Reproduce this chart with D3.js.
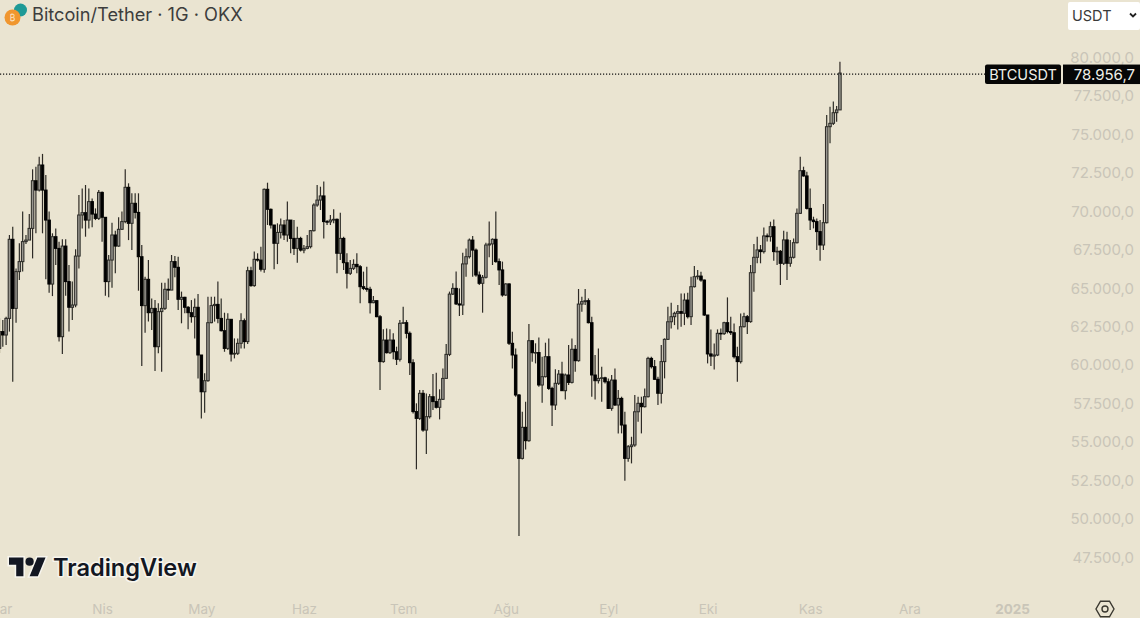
<!DOCTYPE html>
<html><head><meta charset="utf-8">
<script src="https://cdn.jsdelivr.net/npm/d3@7/dist/d3.min.js"></script>
<style>html,body{margin:0;padding:0;background:#eae4d1;overflow:hidden}svg{display:block}</style>
</head><body><svg id="c" width="1140" height="618"></svg>
<script>
const startDate = "2024-03-01";
const closes = [
62150,61930,63010,68150,63660,66050,66700,68000,68100,68860,
71960,71350,72980,71350,69400,65240,68320,67560,61820,67710,
65400,63730,63880,67060,69730,69880,69400,70600,69790,69510,
71200,69580,65400,66800,68430,67710,68800,69300,71530,69190,
70490,69900,67020,63840,65550,63380,63660,61170,63450,63660,
64900,64850,66700,66330,64250,64380,63730,63380,63120,63730,
60630,58240,58960,62730,63840,63920,63010,62210,61060,62950,
60690,60740,61390,62860,61500,66110,65140,66850,66800,66200,
71400,70100,69080,67890,68600,69080,68430,69400,68210,67560,
68210,67450,67560,67670,68710,70380,70700,70970,69300,69280,
69400,69450,67240,68210,66630,65940,66260,66520,66370,65070,
64960,64900,64030,64160,63120,60200,61600,60780,61600,60840,
60350,62690,62730,62040,60130,56950,56510,58140,55750,56620,
57920,57600,57230,57750,59110,60670,64590,64960,63950,63880,
66550,67020,68100,67450,65830,65290,65680,67780,67850,68150,
66700,66160,64530,65250,61390,60630,58030,53910,55930,55060,
61560,60780,60790,58680,59220,60520,58460,57380,58790,59390,
58310,59330,58850,61000,60260,63940,64100,64160,62730,59330,
58960,59110,59150,58890,57160,59000,57380,57810,56080,53910,
54670,54780,56940,57490,57270,57920,60410,59870,59050,58140,
60200,61650,62790,63120,63340,63450,63340,64200,63120,65070,
65720,65760,65500,63230,60700,60560,60630,62040,62020,62730,
62150,62080,60520,60200,62470,63120,62800,65980,66980,67460,
67350,68370,68320,68970,67350,67370,66590,68110,66590,66980,
67930,69840,72610,72270,70160,69400,69300,68650,67780,69230,
75470,75690,76380,76560,78956.7];
const opens = [
61060,62150,61930,63010,68150,63660,66050,66700,68000,68100,
68860,71960,71350,72980,71350,69400,65240,68320,67560,61820,
67710,65400,63730,63880,67060,69730,69880,69400,70600,69790,
69510,71200,69580,65400,66800,68430,67710,68800,69300,71530,
69190,70490,69900,67020,63840,65550,63380,63660,61170,63450,
63660,64900,64850,66700,66330,64250,64380,63730,63380,63120,
63730,60630,58240,58960,62730,63840,63920,63010,62210,61060,
62950,60690,60740,61390,62860,61500,66110,65140,66850,66800,
66200,71400,70100,69080,67890,68600,69080,68430,69400,68210,
67560,68210,67450,67560,67670,68710,70380,70700,70970,69300,
69280,69400,69450,67240,68210,66630,65940,66260,66520,66370,
65070,64960,64900,64030,64160,63120,60200,61600,60780,61600,
60840,60350,62690,62730,62040,60130,56950,56510,58140,55750,
56620,57920,57600,57230,57750,59110,60670,64590,64960,63950,
63880,66550,67020,68100,67450,65830,65290,65680,67780,67850,
68150,66700,66160,64530,65250,61390,60630,58030,53910,55930,
55060,61560,60780,60790,58680,59220,60520,58460,57380,58790,
59390,58310,59330,58850,61000,60260,63940,64100,64160,62730,
59330,58960,59110,59150,58890,57160,59000,57380,57810,56080,
53910,54670,54780,56940,57490,57270,57920,60410,59870,59050,
58140,60200,61650,62790,63120,63340,63450,63340,64200,63120,
65070,65720,65760,65500,63230,60700,60560,60630,62040,62020,
62730,62150,62080,60520,60200,62470,63120,62800,65980,66980,
67460,67350,68370,68320,68970,67350,67370,66590,68110,66590,
66980,67930,69840,72610,72270,70160,69400,69300,68650,67780,
69230,75470,75690,76380,76560];
const highs = [
63010,62900,63120,68430,68970,66260,67890,69950,68430,69790,
72700,72870,73520,73700,72330,69950,68540,68860,67990,68150,
68150,66480,65400,67500,71030,71460,71680,71460,70810,70160,
71350,71250,69580,67130,69230,68710,69580,69950,72700,71790,
71140,71140,71140,67780,65720,66800,64310,64200,63990,65330,
65330,65610,67130,67060,67020,64750,64420,63810,64200,64310,
64590,60630,59440,64420,64420,64420,65400,64310,63380,63340,
62950,61710,61710,63340,63010,66370,66370,67350,67240,67670,
71460,71830,70160,69080,69190,69510,69400,70600,69400,69400,
68970,68320,67780,68430,68750,70490,71680,71570,71900,69400,
69730,70100,69510,69880,68320,67240,66800,66850,67240,66480,
66050,66370,65070,64460,64200,63230,62300,62360,62300,62040,
61170,62900,63770,62900,62150,60350,57490,58350,58350,58135,
58090,59390,59480,58400,59760,61340,64750,65290,66050,64960,
67280,67560,68210,68360,67560,66050,65830,67930,69300,68210,
69950,66910,66700,65290,65290,62140,61060,58090,56940,57590,
62640,61600,61390,61760,60520,61430,61710,58570,59700,59650,
60195,59435,61280,61710,61280,64920,64420,64920,64310,63120,
60630,61060,59870,59220,59110,59325,59760,58350,57920,56940,
54775,55315,58025,57920,57920,58460,60520,60520,60300,59220,
61280,61710,63770,64030,63445,63880,64635,64635,64680,65720,
66415,66150,66045,65545,63230,62295,61385,62295,62360,62795,
64375,63120,62685,61170,63335,63380,63230,66480,67845,68320,
67780,68925,68535,69295,69445,67670,67455,68710,68645,68105,
68210,70160,73520,72870,72545,71460,69620,69510,69400,70445,
76230,76770,77100,76815,79695];
const lows = [
60740,61170,61280,62150,58890,62730,65500,66050,67840,68100,
66910,68540,71250,68540,65550,64680,64460,66480,61500,60690,
64480,62150,62900,63730,66260,68860,68320,68860,68930,69400,
69400,67990,64480,64380,65000,65940,67670,68750,69190,68100,
67450,69510,64810,59910,62080,62800,62250,59590,60740,59540,
63550,64200,64850,65680,63550,62690,63340,62300,62730,61710,
59110,56510,56880,58890,62690,62800,62690,62150,60840,60950,
60200,60410,60630,61060,61060,61340,65070,65070,66700,66050,
65980,69080,68860,66200,66540,68210,68100,67990,67240,67130,
66630,67350,67240,67500,67560,68650,70270,70055,68210,69080,
69080,69190,65940,66800,66155,64960,65830,66155,65940,63990,
64850,64745,63335,63990,63080,58350,60130,60735,60695,60350,
59980,60200,62640,61710,59330,56835,53200,56400,55645,54190,
56510,57055,57160,56445,57700,59110,60560,64530,63880,63165,
63230,65720,66910,65720,65720,65180,63380,65610,66980,66480,
66630,65180,64420,64465,61280,59760,57920,48860,53845,54495,
54995,60195,60085,58570,57530,59175,58350,56010,57055,58680,
58310,57745,58675,58785,59545,60195,63445,63880,62685,57920,
57745,58785,57595,58785,57160,57010,57310,55535,55535,52455,
53690,53585,54670,56295,55535,57225,57875,59760,59000,57375,
57485,59110,61600,62360,62575,62295,62470,62575,63010,62575,
65025,65545,65395,63160,60085,59915,59695,60560,61600,61930,
62035,61930,60410,58895,60085,62425,61990,62730,64745,66590,
66590,67235,68000,68000,66760,66480,65180,66480,65500,66370,
66910,67885,69795,72220,70095,68755,68860,67455,66760,67455,
69185,74390,75580,75795,76555];

const priceTicks = [80000,77500,75000,72500,70000,67500,65000,62500,60000,57500,55000,52500,50000,47500];
const monthLabels = ["Mar","Nis","May","Haz","Tem","Ağu","Eyl","Eki","Kas","Ara","2025"];
const monthDates = ["2024-03-01","2024-04-01","2024-05-01","2024-06-01","2024-07-01","2024-08-01","2024-09-01","2024-10-01","2024-11-01","2024-12-01","2025-01-01"];
const symbol = "BTCUSDT", lastPrice = 78956.7, currency = "USDT", title = "Bitcoin/Tether · 1G · OKX", brand = "TradingView";

const parse = d3.utcParse("%Y-%m-%d");
const start = parse(startDate);
const dates = closes.map((_, i) => d3.utcDay.offset(start, i));
const candles = closes.map((c, i) => ({date: dates[i], o: opens[i], h: highs[i], l: lows[i], c}));

const x = d3.scaleUtc().domain([start, parse("2025-01-01")]).range([-0.5, 1012]);
const y = d3.scaleLinear().domain([47500, 80000]).range([557, 57]);
const fmt = d3.formatLocale({decimal: ",", thousands: ".", grouping: [3], currency: ["", ""]}).format(",.1f");
const FONT = "Inter, 'Liberation Sans', sans-serif";
const svg = d3.select("#c").style("font-family", FONT);

svg.append("rect").attr("width", 1140).attr("height", 618).attr("fill", "#eae4d1");

const defs = svg.append("defs");
defs.append("filter").attr("id", "soft").append("feGaussianBlur").attr("stdDeviation", 0.4);

const plot = svg.append("g").attr("filter", "url(#soft)");
const bw = 2.5;
plot.selectAll("line.w").data(candles).join("line").attr("class", "w")
  .attr("x1", d => x(d.date)).attr("x2", d => x(d.date))
  .attr("y1", d => y(d.h)).attr("y2", d => y(d.l))
  .attr("stroke", "#2e2c27").attr("stroke-width", 1.2);
plot.selectAll("rect.b").data(candles).join("rect").attr("class", "b")
  .attr("x", d => x(d.date) - bw / 2).attr("width", bw)
  .attr("y", d => y(Math.max(d.o, d.c)))
  .attr("height", d => Math.max(0.6, Math.abs(y(d.o) - y(d.c))))
  .attr("fill", d => d.c >= d.o ? "#98968f" : "#050505")
  .attr("stroke", d => d.c >= d.o ? "#2b2a26" : "#050505")
  .attr("stroke-width", 1);

// last price line
svg.append("line").attr("x1", 0).attr("x2", 985).attr("y1", y(lastPrice) + 1).attr("y2", y(lastPrice) + 1)
  .attr("stroke", "#111").attr("stroke-width", 1.2).attr("stroke-dasharray", "1.2 1.8");

// price axis
const yAxis = d3.axisRight(y).tickValues(priceTicks).tickSize(0).tickFormat(fmt);
const yg = svg.append("g").attr("transform", "translate(1134,0)").call(yAxis);
yg.select(".domain").remove();
yg.selectAll("text").attr("x", 0).attr("dy", "0.35em").attr("text-anchor", "end")
  .attr("fill", "#c9c5b8").attr("font-size", 15).attr("font-family", FONT);

// time axis
const xAxis = d3.axisBottom(x).tickValues(monthDates.map(parse)).tickSize(0)
  .tickFormat((d, i) => monthLabels[i]);
const xg = svg.append("g").attr("transform", "translate(0,604)").call(xAxis);
xg.select(".domain").remove();
xg.selectAll("text").attr("y", 0).attr("dy", "0.71em")
  .attr("fill", "#c9c5b8").attr("font-size", 13.5).attr("font-family", FONT)
  .attr("font-weight", (d, i) => monthLabels[i] === "2025" ? 700 : 400);

// title
svg.append("circle").attr("cx", 20.5).attr("cy", 10).attr("r", 6.5).attr("fill", "#1f9a96");
svg.append("circle").attr("cx", 12.5).attr("cy", 17.5).attr("r", 8).attr("fill", "#f0962e");
svg.append("text").attr("x", 12.5).attr("y", 20.5).attr("text-anchor", "middle").attr("font-size", 8.5).attr("fill", "#fbe3c4").text("₿");
svg.append("text").attr("x", 32).attr("y", 21).attr("font-size", 18.2).attr("fill", "#3d3d3d").text(title);

// currency selector
svg.append("rect").attr("x", 1068).attr("y", 2).attr("width", 72).attr("height", 28).attr("rx", 2).attr("fill", "#ffffff");
svg.append("text").attr("x", 1072).attr("y", 21).attr("font-size", 14.5).attr("fill", "#3a3a3a").text(currency);
svg.append("path").attr("d", "M1130 13.5l3 3 3-3").attr("fill", "none").attr("stroke", "#222").attr("stroke-width", 1.8);

// price label
const ly = y(lastPrice) + 1;
svg.append("rect").attr("x", 985).attr("y", ly - 9.5).attr("width", 76).attr("height", 19.5).attr("rx", 2).attr("fill", "#060606");
svg.append("rect").attr("x", 1063).attr("y", ly - 9.5).attr("width", 77).attr("height", 19.5).attr("fill", "#060606");
svg.append("text").attr("x", 1023).attr("y", ly + 5.5).attr("text-anchor", "middle").attr("font-size", 14.5).attr("fill", "#f0f0ea").text(symbol);
svg.append("text").attr("x", 1135).attr("y", ly + 5.5).attr("text-anchor", "end").attr("font-size", 15).attr("fill", "#f0f0ea").text(fmt(lastPrice));

// TradingView logo
const logo = svg.append("g").attr("transform", "translate(9,553.5) scale(1.03)");
logo.append("path").attr("d", "M14 22H7V11H0V4h14v18zM28 22h-8l7.5-18h8L28 22z").attr("fill", "#131722").attr("stroke", "#f7f5ee").attr("stroke-width", 3).attr("paint-order", "stroke");
logo.append("circle").attr("cx", 20).attr("cy", 8).attr("r", 4).attr("fill", "#131722");
svg.append("text").attr("x", 53).attr("y", 576).attr("font-size", 23.6).attr("font-weight", 600).attr("fill", "#131722")
  .attr("stroke", "#f7f5ee").attr("stroke-width", 3).attr("paint-order", "stroke").attr("stroke-linejoin", "round").text(brand);

// settings icon
const hex = d3.range(6).map(k => [1105 + 9 * Math.cos(k * Math.PI / 3), 609 + 9 * Math.sin(k * Math.PI / 3)]);
svg.append("path").attr("d", d3.line()(hex) + "Z").attr("fill", "none").attr("stroke", "#3a3830").attr("stroke-width", 1.4);
svg.append("circle").attr("cx", 1105).attr("cy", 609).attr("r", 3).attr("fill", "none").attr("stroke", "#3a3830").attr("stroke-width", 1.4);
</script></body></html>
